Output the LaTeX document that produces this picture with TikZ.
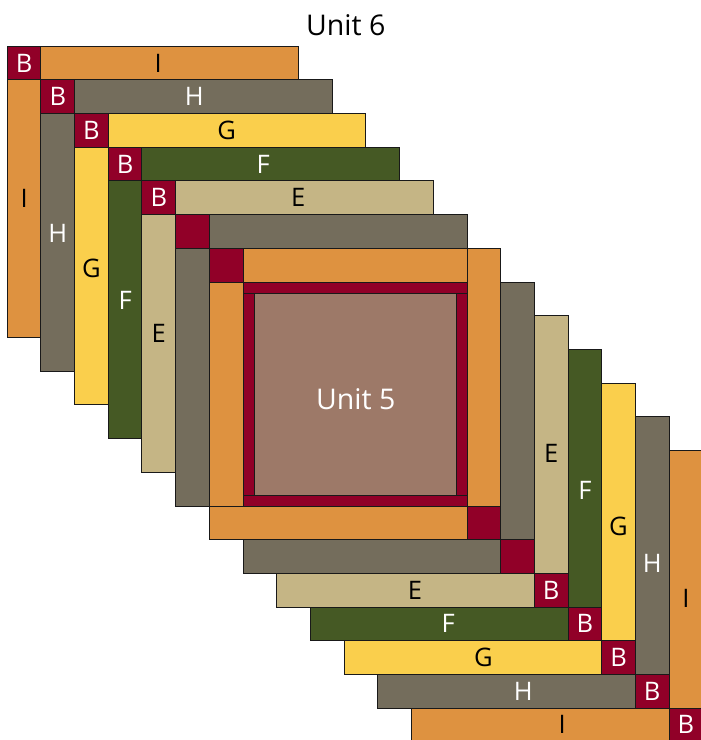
\documentclass[tikz,border=0pt]{standalone}
\usepackage{fontspec}
\setmainfont{Open Sans}
\definecolor{qorange}{HTML}{DE9240}
\definecolor{qgray}{HTML}{746D5C}
\definecolor{qyellow}{HTML}{FACF4C}
\definecolor{qgreen}{HTML}{455924}
\definecolor{qtan}{HTML}{C5B585}
\definecolor{qred}{HTML}{910028}
\definecolor{qbrown}{HTML}{9D7968}
\begin{document}
\begin{tikzpicture}[x=1pt,y=-1pt,
  patch/.style={draw=black!90, line width=1pt},
  lab/.style={inner sep=0pt, font=\fontsize{25.5}{25.5}\selectfont},
  unitlab/.style={inner sep=0pt, font=\fontsize{28.5}{28.5}\selectfont}]
\useasboundingbox (0,0) rectangle (701,740);
\clip (0,0) rectangle (701,740);
\def\u{33.67}
% ring 1 (innermost orange)
\filldraw[patch, fill=qred] ({243-\u},{282-\u}) rectangle (243,282);
\filldraw[patch, fill=qorange] (243,{282-\u}) rectangle (467,282);
\filldraw[patch, fill=qorange] ({243-\u},282) rectangle (243,506);
\filldraw[patch, fill=qorange] (467,{282-\u}) rectangle ({467+\u},506);
\filldraw[patch, fill=qorange] ({243-\u},506) rectangle (467,{506+\u});
\filldraw[patch, fill=qred] (467,506) rectangle ({467+\u},{506+\u});
% ring 2 (gray, unlabeled)
\filldraw[patch, fill=qred] ({243-2*\u},{282-2*\u}) rectangle ({243-\u},{282-\u});
\filldraw[patch, fill=qgray] ({243-\u},{282-2*\u}) rectangle (467,{282-\u});
\filldraw[patch, fill=qgray] ({243-2*\u},{282-\u}) rectangle ({243-\u},506);
\filldraw[patch, fill=qgray] ({467+\u},282) rectangle ({467+2*\u},{506+\u});
\filldraw[patch, fill=qgray] (243,{506+\u}) rectangle ({467+\u},{506+2*\u});
\filldraw[patch, fill=qred] ({467+\u},{506+\u}) rectangle ({467+2*\u},{506+2*\u});
% labelled rings
\foreach \j/\fc/\tc/\L/\tx/\ly/\ry/\bx in {
  7/qorange/black/I/158.3/198/598.3/562.3,
  6/qgray/white/H/194.3/233.3/563.3/523.3,
  5/qyellow/black/G/226.7/268.3/526.7/483.3,
  4/qgreen/white/F/263.3/300/490/448.3,
  3/qtan/black/E/298.3/333.3/453.3/415}{
  \filldraw[patch, fill=qred] ({243-\j*\u},{282-\j*\u}) rectangle ({243-(\j-1)*\u},{282-(\j-1)*\u});
  \node[lab, text=white] (tlb\j) at ({243-(\j-0.5)*\u},{282-(\j-0.5)*\u}) {B};
  \filldraw[patch, fill=\fc] ({243-(\j-1)*\u},{282-\j*\u}) rectangle ({467-(\j-2)*\u},{282-(\j-1)*\u});
  \node[lab, text=\tc] (top\j) at (\tx,{282-(\j-0.5)*\u}) {\L};
  \filldraw[patch, fill=\fc] ({243-\j*\u},{282-(\j-1)*\u}) rectangle ({243-(\j-1)*\u},{506-(\j-2)*\u});
  \node[lab, text=\tc] (left\j) at ({243-(\j-0.5)*\u},\ly) {\L};
  \filldraw[patch, fill=\fc] ({467+(\j-1)*\u},{282+(\j-2)*\u}) rectangle ({467+\j*\u},{506+(\j-1)*\u});
  \node[lab, text=\tc] (right\j) at ({467+(\j-0.5)*\u},\ry) {\L};
  \filldraw[patch, fill=\fc] ({243+(\j-2)*\u},{506+(\j-1)*\u}) rectangle ({467+(\j-1)*\u},{506+\j*\u});
  \node[lab, text=\tc] (bottom\j) at (\bx,{506+(\j-0.5)*\u}) {\L};
  \filldraw[patch, fill=qred] ({467+(\j-1)*\u},{506+(\j-1)*\u}) rectangle ({467+\j*\u},{506+\j*\u});
  \node[lab, text=white] (brb\j) at ({467+(\j-0.5)*\u},{506+(\j-0.5)*\u}) {B};
}
% centre square with red border
\filldraw[patch, fill=qred] (243,282) rectangle (467,293.5);
\filldraw[patch, fill=qred] (243,495) rectangle (467,506);
\filldraw[patch, fill=qred] (243,293.5) rectangle (254.5,495);
\filldraw[patch, fill=qred] (456.5,293.5) rectangle (467,495);
\filldraw[patch, fill=qbrown] (254.5,293.5) rectangle (456.5,495);
\node[unitlab, text=white] (unit5) at (355.8,398.8) {Unit 5};
\node[unitlab, text=black] (unit6) at (345.8,25) {Unit 6};
\end{tikzpicture}
\end{document}
